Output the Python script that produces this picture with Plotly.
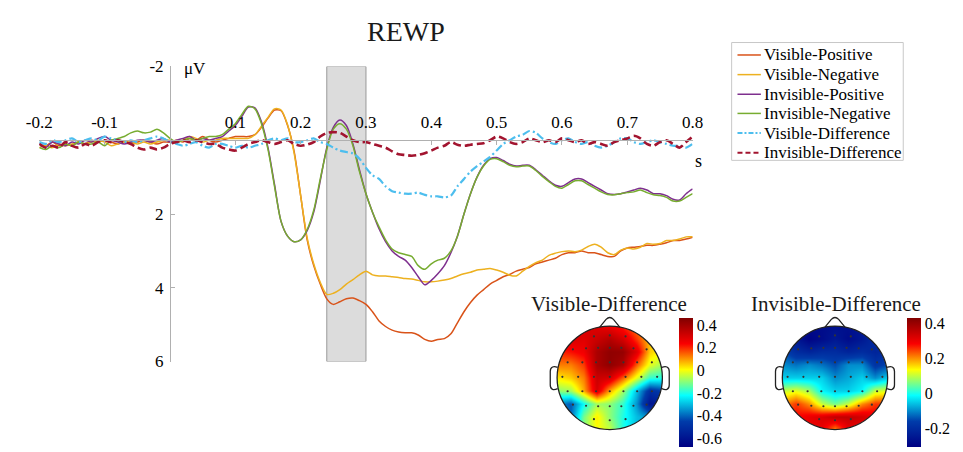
import plotly.graph_objects as go

W, H = 963, 452
FONT = "Liberation Serif"

# ---------------- ERP data (µV), sampled every 10 ms from -0.2 to 0.8 s ----------------
time_s = [round(-0.2 + 0.01 * i, 2) for i in range(101)]

visible_positive = [
    0.1, 0.15, 0.05, 0.15, 0.1, 0.15, 0.05, 0.1, 0.0, 0.05,
    0.0, 0.05, 0.1, 0.05, 0.1, 0.05, 0.0, 0.05, 0.1, 0.05,
    0.05, 0.0, 0.05, -0.05, 0.0, -0.1, 0.0, 0.05, 0.0, -0.05,
    -0.1, -0.1, -0.1, -0.15, -0.35, -0.6, -0.82, -0.8, -0.4, 0.3,
    1.5, 2.7, 3.4, 3.9, 4.3, 4.45, 4.38, 4.3, 4.28, 4.35,
    4.45, 4.65, 4.9, 5.05, 5.15, 5.2, 5.22, 5.22, 5.28, 5.4,
    5.45, 5.4, 5.38, 5.25, 4.95, 4.65, 4.4, 4.2, 4.05, 3.9,
    3.8, 3.7, 3.64, 3.55, 3.5, 3.45, 3.35, 3.3, 3.25, 3.2,
    3.1, 3.05, 3.05, 3.0, 3.05, 3.05, 3.1, 3.15, 3.15, 3.0,
    2.92, 2.9, 2.88, 2.85, 2.85, 2.82, 2.78, 2.72, 2.72, 2.68,
    2.63]

visible_negative = [
    0.2, 0.15, 0.2, 0.1, 0.15, 0.1, 0.05, 0.1, 0.05, 0.0,
    0.05, 0.15, 0.1, 0.05, 0.05, 0.1, 0.05, 0.1, 0.05, 0.0,
    0.0, 0.05, 0.0, -0.1, -0.05, 0.05, 0.0, 0.0, -0.05, -0.05,
    -0.05, -0.05, -0.05, -0.15, -0.38, -0.62, -0.85, -0.82, -0.42, 0.35,
    1.5, 2.65, 3.35, 3.85, 4.18, 4.15, 4.05, 3.9, 3.78, 3.65,
    3.55, 3.65, 3.68, 3.68, 3.7, 3.72, 3.75, 3.76, 3.8, 3.84,
    3.84, 3.82, 3.79, 3.75, 3.68, 3.62, 3.58, 3.52, 3.5, 3.48,
    3.52, 3.58, 3.66, 3.68, 3.55, 3.42, 3.32, 3.25, 3.12, 3.06,
    3.02, 3.0, 3.02, 2.98, 2.88, 2.82, 2.9, 3.05, 3.1, 2.98,
    2.92, 2.95, 2.9, 2.8, 2.82, 2.8, 2.72, 2.72, 2.68, 2.62,
    2.62]

invisible_positive = [
    0.1, 0.2, 0.05, 0.1, 0.15, 0.05, 0.1, 0.0, 0.05, -0.05,
    -0.1, 0.0, 0.05, 0.1, 0.05, 0.0, 0.0, 0.05, 0.0, -0.05,
    0.05, 0.0, -0.05, -0.1, 0.0, -0.05, 0.0, -0.05, -0.1, -0.25,
    -0.4, -0.65, -0.9, -0.88, -0.5, 0.2, 1.2, 2.2, 2.6, 2.75,
    2.7, 2.45, 1.95, 1.1, 0.2, -0.35, -0.55, -0.4, 0.1, 0.8,
    1.45, 1.95, 2.4, 2.75, 3.0, 3.15, 3.25, 3.45, 3.7, 3.92,
    3.8, 3.62, 3.4, 3.05, 2.6, 2.0, 1.45, 1.0, 0.68, 0.5,
    0.47, 0.55, 0.65, 0.7, 0.68, 0.68, 0.8, 0.95, 1.1, 1.22,
    1.25, 1.15, 1.05, 1.05, 1.15, 1.25, 1.35, 1.45, 1.47, 1.45,
    1.4, 1.35, 1.3, 1.35, 1.45, 1.45, 1.5, 1.6, 1.62, 1.45,
    1.32]

invisible_negative = [
    0.2, 0.25, 0.15, 0.2, 0.1, 0.15, 0.05, 0.1, 0.1, 0.05,
    0.15, 0.0, -0.05, -0.1, -0.2, -0.25, -0.2, -0.22, -0.3, -0.2,
    -0.05, 0.05, 0.0, -0.05, 0.0, -0.05, -0.1, -0.1, -0.15, -0.3,
    -0.45, -0.7, -0.92, -0.85, -0.45, 0.25, 1.25, 2.2, 2.6, 2.75,
    2.7, 2.42, 1.9, 1.05, 0.25, -0.3, -0.45, -0.3, 0.15, 0.85,
    1.45, 1.95, 2.35, 2.7, 2.95, 3.05, 3.1, 3.15, 3.4, 3.5,
    3.35, 3.25, 3.2, 3.0, 2.6, 2.0, 1.45, 1.0, 0.7, 0.52,
    0.5, 0.58, 0.68, 0.72, 0.7, 0.7, 0.82, 0.98, 1.12, 1.25,
    1.3, 1.2, 1.1, 1.1, 1.2, 1.3, 1.4, 1.47, 1.48, 1.45,
    1.42, 1.4, 1.35, 1.42, 1.48, 1.5, 1.55, 1.65, 1.65, 1.55,
    1.45]

visible_difference = [
    0.05, 0.1, 0.0, 0.05, 0.0, -0.05, 0.05, 0.0, -0.05, 0.0,
    -0.1, -0.05, 0.0, 0.05, 0.0, 0.05, 0.0, -0.05, -0.1, -0.05,
    0.05, 0.1, 0.15, 0.1, 0.05, 0.15, 0.2, 0.1, 0.1, 0.15,
    0.2, 0.15, 0.2, 0.15, 0.1, 0.0, -0.05, 0.0, -0.05, 0.05,
    0.05, 0.0, -0.05, 0.05, 0.1, 0.2, 0.28, 0.32, 0.36, 0.5,
    0.75, 0.95, 1.05, 1.25, 1.38, 1.42, 1.45, 1.45, 1.42, 1.48,
    1.52, 1.52, 1.55, 1.5, 1.25, 1.05, 0.85, 0.7, 0.58, 0.45,
    0.28, 0.1, 0.0, -0.1, -0.15, -0.25, -0.2, -0.05, 0.05, 0.1,
    0.0, -0.05, 0.05, 0.1, 0.05, 0.15, 0.2, 0.15, 0.05, -0.05,
    -0.05, 0.05, 0.1, 0.05, 0.0, 0.05, 0.1, 0.15, 0.15, 0.2,
    0.1]

invisible_difference = [
    0.1, 0.2, 0.15, 0.2, 0.05, 0.15, 0.2, 0.1, 0.15, 0.05,
    0.0, 0.05, 0.0, 0.05, 0.1, 0.2, 0.25, 0.2, 0.25, 0.2,
    0.1, 0.05, 0.0, 0.05, 0.0, 0.05, 0.1, 0.1, 0.2, 0.25,
    0.28, 0.2, 0.1, 0.05, 0.0, 0.05, 0.1, 0.05, 0.0, 0.1,
    0.15, 0.12, 0.05, -0.1, -0.2, -0.22, -0.2, -0.1, 0.0, 0.05,
    0.05, 0.1, 0.15, 0.2, 0.3, 0.38, 0.4, 0.42, 0.4, 0.35,
    0.28, 0.2, 0.15, 0.05, 0.12, 0.15, 0.12, 0.1, 0.08, 0.0,
    -0.1, -0.05, 0.05, 0.1, 0.05, -0.05, 0.0, 0.05, 0.0, 0.05,
    -0.05, 0.0, 0.05, 0.0, 0.1, 0.05, 0.1, 0.15, 0.05, 0.0,
    -0.05, -0.12, -0.05, 0.1, 0.15, 0.05, 0.0, 0.1, 0.2, 0.05,
    -0.1]

series_names = ["Visible-Positive", "Visible-Negative", "Invisible-Positive",
                "Invisible-Negative", "Visible-Difference", "Invisible-Difference"]
series_colors = ["#D95319", "#EDB120", "#7E2F8E", "#77AC30", "#4DBEEE", "#A2142F"]
series_dash = ["solid", "solid", "solid", "solid", "8px,3px,2px,3px", "8px,4px"]
series_width = [1.5, 1.5, 1.5, 1.5, 2.2, 2.6]

x_tick_vals = [-0.2, -0.1, 0.1, 0.2, 0.3, 0.4, 0.5, 0.6, 0.7, 0.8]
x_tick_text = ["-0.2", "-0.1", "0.1", "0.2", "0.3", "0.4", "0.5", "0.6", "0.7", "0.8"]
y_tick_vals = [-2, 2, 4, 6]
y_tick_text = ["-2", "2", "4", "6"]
window_s = [0.24, 0.30]

# ---------------- topography data (coarse 9x9 grid, rows top -> bottom) ----------------
topo_x = [-1.0, -0.75, -0.5, -0.25, 0.0, 0.25, 0.5, 0.75, 1.0]
topo_y_top_down = [1.0, 0.75, 0.5, 0.25, 0.0, -0.25, -0.5, -0.75, -1.0]

visible_topo = [
    [0.25, 0.30, 0.30, 0.28, 0.25, 0.20, 0.12, 0.05, 0.00],
    [0.28, 0.30, 0.28, 0.32, 0.36, 0.30, 0.18, 0.06, 0.03],
    [0.20, 0.22, 0.25, 0.38, 0.43, 0.42, 0.28, 0.05, 0.00],
    [0.12, 0.12, 0.18, 0.38, 0.43, 0.38, 0.15, -0.02, -0.08],
    [0.02, 0.05, 0.12, 0.32, 0.30, 0.15, -0.02, -0.18, -0.20],
    [-0.10, -0.08, 0.08, 0.30, 0.08, -0.08, -0.30, -0.50, -0.45],
    [-0.35, -0.42, -0.22, -0.08, -0.10, -0.18, -0.35, -0.60, -0.55],
    [-0.35, -0.40, -0.12, 0.02, -0.10, -0.20, -0.30, -0.35, -0.40],
    [-0.30, -0.30, -0.10, 0.00, -0.05, -0.20, -0.30, -0.30, -0.30]]

invisible_topo = [
    [-0.25, -0.27, -0.28, -0.28, -0.27, -0.27, -0.25, -0.22, -0.20],
    [-0.22, -0.25, -0.30, -0.28, -0.25, -0.28, -0.25, -0.20, -0.20],
    [-0.15, -0.20, -0.22, -0.20, -0.20, -0.22, -0.20, -0.22, -0.20],
    [-0.10, -0.12, -0.10, -0.12, -0.15, -0.10, -0.10, -0.18, -0.15],
    [-0.05, -0.05, -0.05, -0.05, -0.10, -0.08, -0.05, -0.10, -0.05],
    [0.10, 0.12, 0.08, -0.02, -0.05, -0.05, -0.02, 0.10, 0.12],
    [0.20, 0.25, 0.20, 0.10, 0.05, 0.10, 0.20, 0.25, 0.25],
    [0.25, 0.28, 0.30, 0.32, 0.35, 0.35, 0.33, 0.30, 0.25],
    [0.20, 0.25, 0.30, 0.30, 0.20, 0.30, 0.30, 0.25, 0.20]]

visible_cbar_vals = [0.4, 0.2, 0, -0.2, -0.4, -0.6]
visible_cbar_text = ["0.4", "0.2", "0", "-0.2", "-0.4", "-0.6"]
visible_range = [-0.68, 0.46]
invisible_cbar_vals = [0.4, 0.2, 0, -0.2]
invisible_cbar_text = ["0.4", "0.2", "0", "-0.2"]
invisible_range = [-0.31, 0.43]

electrode_x = [-0.3, 0.0, 0.3,
               -0.7, -0.45, -0.22, 0.0, 0.22, 0.45, 0.7,
               -0.8, -0.52, -0.26, 0.0, 0.26, 0.52, 0.8,
               -0.9, -0.6, -0.3, 0.0, 0.3, 0.6, 0.9,
               -0.8, -0.52, -0.26, 0.0, 0.26, 0.52, 0.8,
               -0.7, -0.45, -0.22, 0.0, 0.22, 0.45, 0.7,
               -0.3, 0.0, 0.3]
electrode_y = [0.8, 0.82, 0.8,
               0.55, 0.57, 0.58, 0.58, 0.58, 0.57, 0.55,
               0.3, 0.3, 0.3, 0.3, 0.3, 0.3, 0.3,
               0.02, 0.02, 0.02, 0.02, 0.02, 0.02, 0.02,
               -0.26, -0.26, -0.26, -0.26, -0.26, -0.26, -0.26,
               -0.52, -0.54, -0.55, -0.55, -0.55, -0.54, -0.52,
               -0.8, -0.82, -0.8]


# ---------------- helpers ----------------
def px(xp):
    return xp / W


def py(yp):
    return 1 - yp / H


fig = go.Figure()

# ERP lines
all_series = [visible_positive, visible_negative, invisible_positive,
              invisible_negative, visible_difference, invisible_difference]
for name, vals, col, dash, lw in zip(series_names, all_series, series_colors,
                                     series_dash, series_width):
    fig.add_trace(go.Scatter(
        x=time_s, y=vals, mode="lines", name=name, showlegend=False,
        line=dict(color=col, width=lw, dash=dash, shape="spline", smoothing=0.8),
        xaxis="x", yaxis="y", hoverinfo="skip"))

# topography heatmaps
topo_y = topo_y_top_down[::-1]
for z, rng, cvals, ctext, xa, ya, cbx in [
        (visible_topo, visible_range, visible_cbar_vals, visible_cbar_text, "x2", "y2", 683),
        (invisible_topo, invisible_range, invisible_cbar_vals, invisible_cbar_text, "x3", "y3", 917)]:
    fig.add_trace(go.Heatmap(
        x=topo_x, y=topo_y, z=z[::-1], zsmooth="best", colorscale="Jet",
        zmin=rng[0], zmax=rng[1], xaxis=xa, yaxis=ya, hoverinfo="skip",
        colorbar=dict(
            x=px(cbx), xanchor="left", xpad=0, thickness=14,
            lenmode="pixels", len=129, y=py(323), yanchor="top", ypad=0,
            outlinewidth=0, ticks="", tickvals=cvals, ticktext=ctext,
            tickfont=dict(family=FONT, size=16, color="black"))))
    fig.add_trace(go.Scatter(
        x=electrode_x, y=electrode_y, mode="markers", xaxis=xa, yaxis=ya,
        marker=dict(color="#333333", size=2.2), showlegend=False, hoverinfo="skip"))

axis_gray = "#b0b0b0"
R = 54.0
half = 1.2 * R
layout = dict(
    width=W, height=H, margin=dict(l=0, r=0, t=0, b=0),
    paper_bgcolor="white", plot_bgcolor="white", showlegend=False,
    xaxis=dict(domain=[px(27), px(697)], range=[-0.2, 0.8], anchor="free",
               position=py(137), side="top", showline=True, linecolor=axis_gray,
               linewidth=1, ticks="inside", ticklen=4, tickcolor=axis_gray,
               tickvals=x_tick_vals, ticktext=x_tick_text, showgrid=False,
               ticklabelstandoff=5,
               zeroline=False, tickfont=dict(family=FONT, size=17, color="black")),
    yaxis=dict(domain=[py(368), py(60)], range=[6, -2], anchor="free",
               position=px(161), showline=True, linecolor=axis_gray, linewidth=1,
               ticks="inside", ticklen=4, tickcolor=axis_gray, tickvals=y_tick_vals,
               ticktext=y_tick_text, showgrid=False, zeroline=False,
               ticklabelstandoff=3,
               tickfont=dict(family=FONT, size=17, color="black")),
)
for i, cx in [(2, 612), (3, 843)]:
    cy = 385
    layout["xaxis%d" % i] = dict(domain=[px(cx - half), px(cx + half)], range=[-1.2, 1.2],
                                 visible=False, anchor="y%d" % i, fixedrange=True)
    layout["yaxis%d" % i] = dict(domain=[py(cy + half), py(cy - half)], range=[-1.2, 1.2],
                                 visible=False, anchor="x%d" % i, fixedrange=True)
fig.update_layout(**layout)

shapes = []
# analysis window
shapes.append(dict(type="rect", xref="x", yref="y", x0=window_s[0], x1=window_s[1],
                   y0=-2, y1=6, fillcolor="#dcdcdc", line=dict(color="#9a9a9a", width=1),
                   layer="below"))

# head masks / outlines
k = 0.5523
circle_path = ("M 1,0 C 1,{k} {k},1 0,1 C -{k},1 -1,{k} -1,0 "
               "C -1,-{k} -{k},-1 0,-1 C {k},-1 1,-{k} 1,0 Z").format(k=k)
mask_path = "M -1.3,-1.3 L 1.3,-1.3 L 1.3,1.3 L -1.3,1.3 Z " + circle_path
for i in (2, 3):
    xr, yr = "x%d" % i, "y%d" % i
    shapes.append(dict(type="path", xref=xr, yref=yr, path=mask_path,
                       fillcolor="white", line=dict(width=0), layer="above"))
    shapes.append(dict(type="circle", xref=xr, yref=yr, x0=-1, x1=1, y0=-1, y1=1,
                       line=dict(color="#222222", width=1.3), layer="above"))
    shapes.append(dict(type="path", xref=xr, yref=yr,
                       path="M -0.19,0.98 L -0.07,1.13 Q 0,1.2 0.07,1.13 L 0.19,0.98",
                       line=dict(color="#222222", width=1.3), layer="above"))
    shapes.append(dict(type="path", xref=xr, yref=yr,
                       path="M -0.99,0.2 C -1.06,0.23 -1.13,0.22 -1.13,0.12 L -1.13,-0.14 "
                            "C -1.13,-0.24 -1.06,-0.24 -0.99,-0.21",
                       line=dict(color="#222222", width=1.3), layer="above"))
    shapes.append(dict(type="path", xref=xr, yref=yr,
                       path="M 0.99,0.2 C 1.06,0.23 1.13,0.22 1.13,0.12 L 1.13,-0.14 "
                            "C 1.13,-0.24 1.06,-0.24 0.99,-0.21",
                       line=dict(color="#222222", width=1.3), layer="above"))

# legend (manual, MATLAB-like)
leg_x0, leg_x1, leg_y0, leg_y1 = 737, 913, 35, 158
shapes.append(dict(type="rect", xref="paper", yref="paper", x0=px(leg_x0), x1=px(leg_x1),
                   y0=py(leg_y1), y1=py(leg_y0), fillcolor="white",
                   line=dict(color="#c8c8c8", width=1), layer="above"))
row_y = [48, 68.5, 89, 109, 129.5, 150]
legend_dash = ["solid", "solid", "solid", "solid", "5px,2px,2px,2px", "5px,3px"]
annotations = []
for name, col, dash, yy in zip(series_names, series_colors, legend_dash, row_y):
    shapes.append(dict(type="line", xref="paper", yref="paper", x0=px(743), x1=px(767),
                       y0=py(yy), y1=py(yy), layer="above",
                       line=dict(color=col, width=1.5 if dash == "solid" else 2, dash=dash)))
    annotations.append(dict(x=px(768), y=py(yy), text=name, xanchor="left",
                            font=dict(family=FONT, size=17, color="black")))

# texts
annotations += [
    dict(x=px(403), y=py(23), text="REWP", font=dict(family=FONT, size=28, color="#1a1a1a")),
    dict(x=px(173), y=py(62), text="\u03bcV", xanchor="left",
         font=dict(family=FONT, size=17, color="black")),
    dict(x=px(703), y=py(159), text="s", font=dict(family=FONT, size=18, color="black")),
    dict(x=px(611), y=py(308), text="Visible-Difference",
         font=dict(family=FONT, size=21, color="#1a1a1a")),
    dict(x=px(844), y=py(308), text="Invisible-Difference",
         font=dict(family=FONT, size=21, color="#1a1a1a")),
]
for a in annotations:
    a.setdefault("xref", "paper")
    a.setdefault("yref", "paper")
    a.setdefault("showarrow", False)
    a.setdefault("xanchor", "center")
    a.setdefault("yanchor", "middle")

fig.update_layout(shapes=shapes, annotations=annotations)
fig.write_html("out.html")
